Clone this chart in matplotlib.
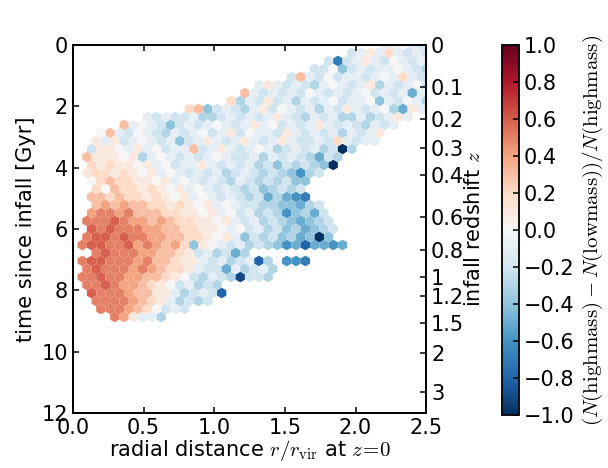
import numpy as np
import matplotlib
matplotlib.use("Agg")
import matplotlib.pyplot as plt

plt.rcParams['mathtext.fontset'] = 'cm'
plt.rcParams['axes.linewidth'] = 1.3
FS = 15

# hex lattice: 38 columns over 0..2.5, rows every DT Gyr
NX, NY = 38, 23
X_MAX, T_MAX = 2.5, 12.0
DX = X_MAX / NX
DT = T_MAX / NY / 2

# one string per hex row (row k sits at t = k*DT), first column in row_start
# '0'..'9' -> 0.0..0.9, 'a'..'j' -> -0.1..-1.0
row_start = [33, 30, 27, 26, 23, 20, 18, 17, 12, 8, 5, 3, 2, 2, 1, 2, 1, 2,
             2, 2, 2, 2, 1, 2, 1, 1, 2, 1, 1, 1, 1, 2, 2, 3, 4]
row_cells = [
    "aa0ab",
    "ba1a2abab",
    "bgba1ab0aba",
    "bb0dbabaa0abc",
    "b3ab0baaba0a2ab",
    "a1ababca0aba1caba0b",
    "3ababab0ababa0babaea",
    "2cab1bacaba0baa0dab0ac",
    "23dbabca1b0abacab1aba0ce1a",
    "ababbaccbababa1abcabaccacba1a",
    "3a0abdbaba0aba1a0baba1ababcaba",
    "03ab0abcaba0ba1b0aab1ababacaba1",
    "1a1ba0abadba1aba1aba1abbab2abaa",
    "b110a1a0baa3ba1aba0acbabacbjc",
    "311101ca0ababa0abbacababcebc",
    "2121101a0baa1ababacbdbcbcdj",
    "12212101a0ababacbabcbcdfcb",
    "023221101a0ababcabcbcbdd",
    "2032212101a0ababcbdcbcb",
    "33232212101a0ababcbecefg",
    "3434332212101a0abbccddecb",
    "45545333221101a0bacbcfdceb",
    "5556544343221101abacbcdedcb",
    "656555443322110a0bacbdcedcb",
    "5665655443322101adbcbdcedjd",
    "566556454342d10abacbcdfeheefe",
    "56555443321bacbec",
    "5665554533211abacbahc0ffg",
    "565554543221abbeacbac",
    "556554433210bcabcibbc",
    "5565443210bacbc",
    "655543311acbabh",
    "55554321acbcb",
    "5554320bab",
    "541aac",
]

# right axis: infall redshift at lookback time (Gyr)
z_labels = ["0", "0.1", "0.2", "0.3", "0.4", "0.6", "0.8", "1", "1.2", "1.5",
            "2", "3"]
z_times = [0, 1.38, 2.42, 3.36, 4.24, 5.62, 6.68, 7.55, 8.2, 9.05, 10.05,
           11.3]
cb_ticks = [-1.0, -0.8, -0.6, -0.4, -0.2, 0.0, 0.2, 0.4, 0.6, 0.8, 1.0]


def decode(ch):
    if ch.isdigit():
        return int(ch) / 10
    return -(ord(ch) - ord('a') + 1) / 10


xs, ts, cs = [], [], []
for k, (c0, cells) in enumerate(zip(row_start, row_cells)):
    shift = 0.5 if k % 2 == 0 else 0.0
    for j, ch in enumerate(cells):
        if ch == '.':
            continue
        xs.append((c0 + j + shift) * DX)
        ts.append(k * DT)
        cs.append(decode(ch))

fig = plt.figure(figsize=(6.08, 4.68), dpi=100)
ax = fig.add_axes([0.120, 0.1175, 0.581, 0.7865])
hb = ax.hexbin(xs, ts, C=cs, gridsize=(NX, NY),
               extent=(0, X_MAX, -DT, T_MAX - DT),
               reduce_C_function=np.mean, cmap='RdBu_r', vmin=-1, vmax=1,
               edgecolors='none', linewidths=0)
ax.set_xlim(0, X_MAX)
ax.set_ylim(T_MAX, 0)
ax.set_xticks([0, 0.5, 1.0, 1.5, 2.0, 2.5])
ax.set_xticklabels(["0.0", "0.5", "1.0", "1.5", "2.0", "2.5"])
ax.set_yticks([0, 2, 4, 6, 8, 10, 12])
ax.tick_params(direction='in', top=True, labelsize=FS, length=4.5, width=1.1)
ax.set_xlabel(r"radial distance $r/r_{\rm vir}$ at $z\!=\!0$", fontsize=FS,
              labelpad=0)
ax.set_ylabel("time since infall [Gyr]", fontsize=FS)

ax2 = ax.twinx()
ax2.set_ylim(T_MAX, 0)
ax2.set_yticks(z_times)
ax2.set_yticklabels(z_labels)
ax2.tick_params(direction='in', labelsize=FS, length=4.5, width=1.1)
ax2.set_ylabel(r"infall redshift $z$", fontsize=FS, labelpad=0)

cax = fig.add_axes([0.826, 0.113, 0.028, 0.79])
cb = fig.colorbar(hb, cax=cax, ticks=cb_ticks)
cb.ax.set_yticklabels([f"{v:.1f}".replace("-", "\u2212") for v in cb_ticks])
cb.ax.tick_params(direction='in', labelsize=FS, length=4.5, width=1.1)
cb.outline.set_linewidth(1.3)
cb.set_label(r"$(N(\mathrm{highmass})-N(\mathrm{lowmass}))/N(\mathrm{highmass})$",
             fontsize=FS)

fig.savefig("out.png", dpi=100)
